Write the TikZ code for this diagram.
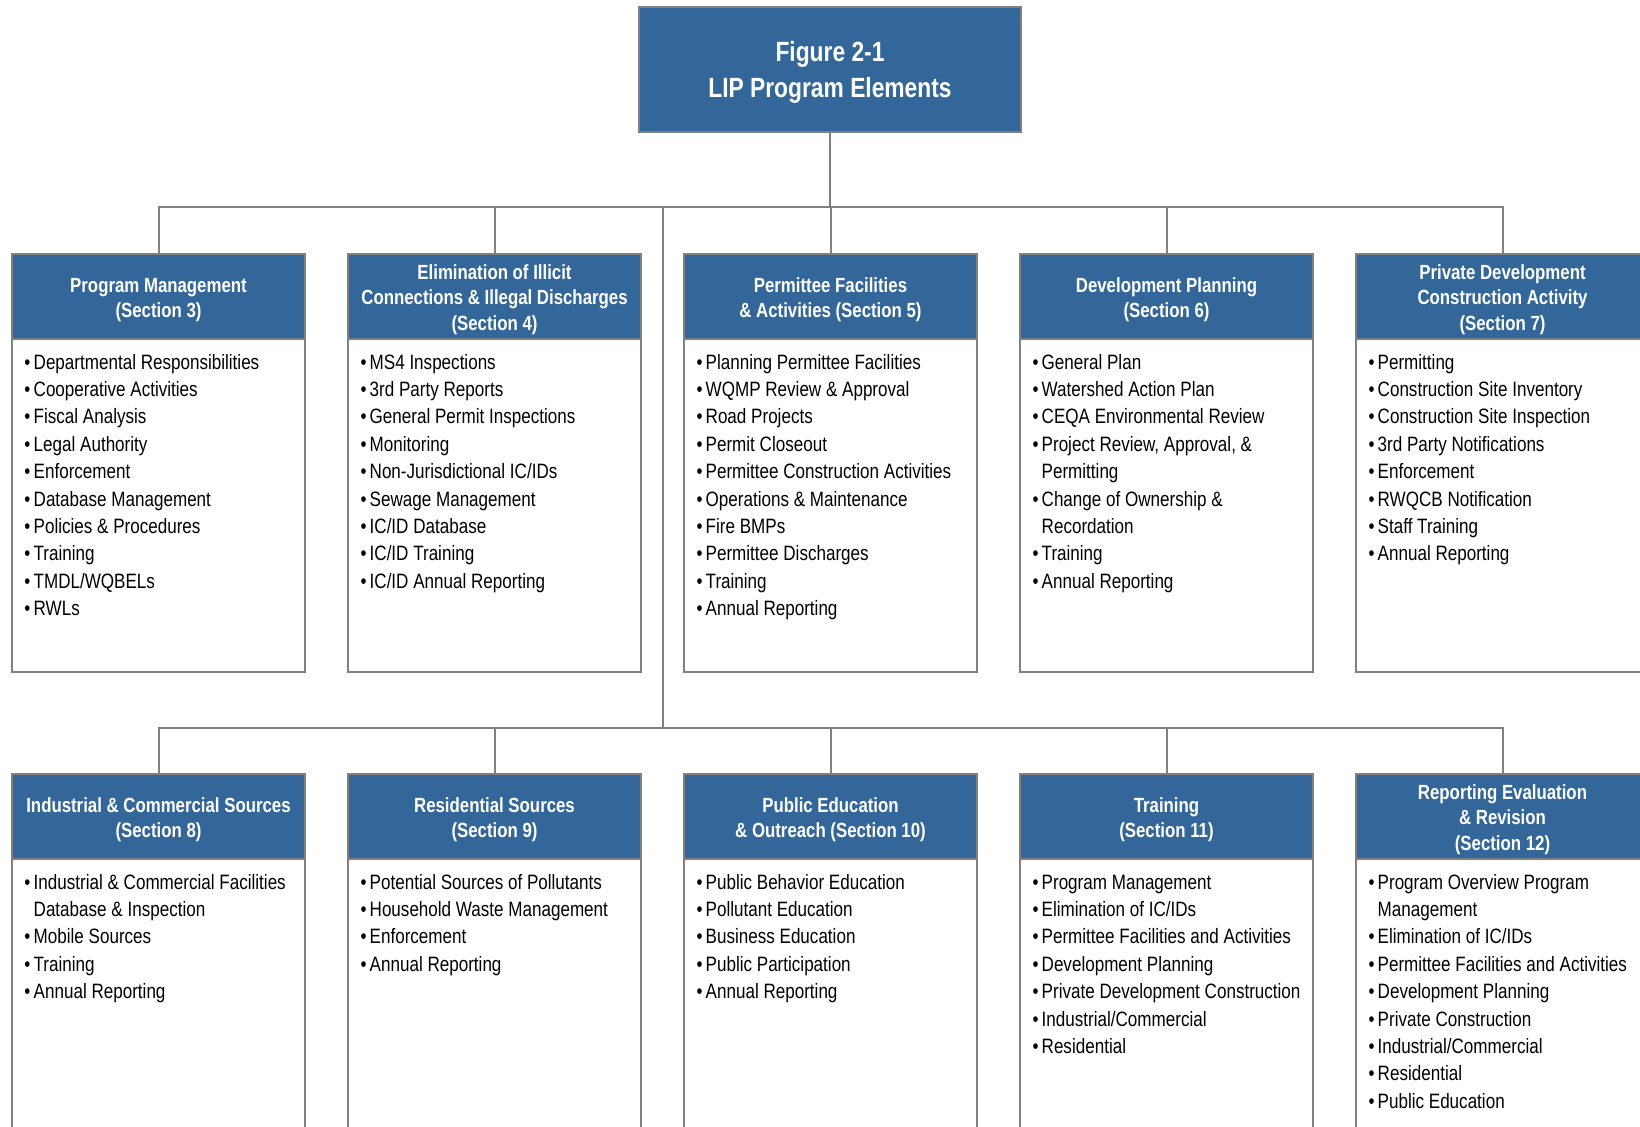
\documentclass[tikz,border=0pt]{standalone}
\usepackage{fontspec}
\setmainfont{Liberation Sans}[FakeStretch=0.82]
\usepackage{tikz}
\usetikzlibrary{positioning}

\definecolor{lipblue}{RGB}{51,102,153}
\definecolor{lipgray}{RGB}{128,128,128}

% one bullet line, with hanging indent for wrapped text
\newcommand{\bitem}[1]{\par\noindent\hangindent=4.6pt\hangafter=1\strut\makebox[4.6pt][l]{\textbullet}#1\strut}
\newcommand{\elemlist}[1]{\parbox[c][155.5pt][t]{134pt}{\raggedright #1}}
% taller first line, so the heading text sits a little lower
\newcommand{\hstrut}{\rule{0pt}{10.5pt}}
\newcommand{\tstrut}{\rule{0pt}{13.1pt}}

\begin{document}
\begin{tikzpicture}[x=0.5pt, y=-0.5pt]
  \tikzset{TitleStyle/.style = {shape          = rectangle,
                                draw           = lipgray,
                                fill           = lipblue,
                                line width     = 1.2pt,
                                text           = white,
                                font           = \bfseries\fontsize{13.9}{18.3}\selectfont,
                                align          = center,
                                minimum width  = 191pt,
                                minimum height = 62.5pt,
                                inner sep      = 0pt,
                                outer sep      = 0pt}}
  \tikzset{HeadStyle/.style = {shape          = rectangle,
                               draw           = lipgray,
                               fill           = lipblue,
                               line width     = 1.2pt,
                               text           = white,
                               font           = \bfseries\fontsize{10.25}{12.75}\selectfont,
                               align          = center,
                               minimum width  = 146.5pt,
                               minimum height = 42.5pt,
                               inner sep      = 0pt,
                               outer sep      = 0pt}}
  \tikzset{BodyStyle/.style = {shape          = rectangle,
                               draw           = lipgray,
                               fill           = white,
                               line width     = 1.2pt,
                               text           = black,
                               font           = \fontsize{10.4}{13.7}\selectfont,
                               minimum width  = 146.5pt,
                               inner xsep     = 5.25pt,
                               inner ysep     = 5.5pt,
                               outer sep      = 0pt}}
  \tikzset{LinkStyle/.style = {draw = lipgray, line width = 1pt}}
  \useasboundingbox (0,0) rectangle (1640,1127);
  %%% TITRE %%%
  \node[TitleStyle](title) at (830,69.5){\tstrut Figure 2-1\\LIP Program Elements};
  %%% RANGEE DU HAUT %%%
  \tikzset{node distance = 21.5pt}
  \node[HeadStyle](h1) at (158.5,296.5){\hstrut Program Management\\(Section 3)};
  \node[BodyStyle, below=0pt of h1](b1){\elemlist{%
    \bitem{Departmental Responsibilities}
    \bitem{Cooperative Activities}
    \bitem{Fiscal Analysis}
    \bitem{Legal Authority}
    \bitem{Enforcement}
    \bitem{Database Management}
    \bitem{Policies \& Procedures}
    \bitem{Training}
    \bitem{TMDL/WQBELs}
    \bitem{RWLs}}};
  \node[HeadStyle, right=of h1](h2){\hstrut Elimination of Illicit\\Connections \& Illegal Discharges\\(Section 4)};
  \node[BodyStyle, below=0pt of h2](b2){\elemlist{%
    \bitem{MS4 Inspections}
    \bitem{3rd Party Reports}
    \bitem{General Permit Inspections}
    \bitem{Monitoring}
    \bitem{Non-Jurisdictional IC/IDs}
    \bitem{Sewage Management}
    \bitem{IC/ID Database}
    \bitem{IC/ID Training}
    \bitem{IC/ID Annual Reporting}}};
  \node[HeadStyle, right=of h2](h3){\hstrut Permittee Facilities\\\& Activities (Section 5)};
  \node[BodyStyle, below=0pt of h3](b3){\elemlist{%
    \bitem{Planning Permittee Facilities}
    \bitem{WQMP Review \& Approval}
    \bitem{Road Projects}
    \bitem{Permit Closeout}
    \bitem{Permittee Construction Activities}
    \bitem{Operations \& Maintenance}
    \bitem{Fire BMPs}
    \bitem{Permittee Discharges}
    \bitem{Training}
    \bitem{Annual Reporting}}};
  \node[HeadStyle, right=of h3](h4){\hstrut Development Planning\\(Section 6)};
  \node[BodyStyle, below=0pt of h4](b4){\elemlist{%
    \bitem{General Plan}
    \bitem{Watershed Action Plan}
    \bitem{CEQA Environmental Review}
    \bitem{Project Review, Approval, \&\newline Permitting}
    \bitem{Change of Ownership \&\newline Recordation}
    \bitem{Training}
    \bitem{Annual Reporting}}};
  \node[HeadStyle, right=of h4](h5){\hstrut Private Development\\Construction Activity\\(Section 7)};
  \node[BodyStyle, below=0pt of h5](b5){\elemlist{%
    \bitem{Permitting}
    \bitem{Construction Site Inventory}
    \bitem{Construction Site Inspection}
    \bitem{3rd Party Notifications}
    \bitem{Enforcement}
    \bitem{RWQCB Notification}
    \bitem{Staff Training}
    \bitem{Annual Reporting}}};
  %%% RANGEE DU BAS %%%
  \node[HeadStyle, below=51pt of b1](h6){\hstrut Industrial \& Commercial Sources\\(Section 8)};
  \node[BodyStyle, below=0pt of h6](b6){\elemlist{%
    \bitem{Industrial \& Commercial Facilities\newline Database \& Inspection}
    \bitem{Mobile Sources}
    \bitem{Training}
    \bitem{Annual Reporting}}};
  \node[HeadStyle, right=of h6](h7){\hstrut Residential Sources\\(Section 9)};
  \node[BodyStyle, below=0pt of h7](b7){\elemlist{%
    \bitem{Potential Sources of Pollutants}
    \bitem{Household Waste Management}
    \bitem{Enforcement}
    \bitem{Annual Reporting}}};
  \node[HeadStyle, right=of h7](h8){\hstrut Public Education\\\& Outreach (Section 10)};
  \node[BodyStyle, below=0pt of h8](b8){\elemlist{%
    \bitem{Public Behavior Education}
    \bitem{Pollutant Education}
    \bitem{Business Education}
    \bitem{Public Participation}
    \bitem{Annual Reporting}}};
  \node[HeadStyle, right=of h8](h9){\hstrut Training\\(Section 11)};
  \node[BodyStyle, below=0pt of h9](b9){\elemlist{%
    \bitem{Program Management}
    \bitem{Elimination of IC/IDs}
    \bitem{Permittee Facilities and Activities}
    \bitem{Development Planning}
    \bitem{Private Development Construction}
    \bitem{Industrial/Commercial}
    \bitem{Residential}}};
  \node[HeadStyle, right=of h9](h10){\hstrut Reporting Evaluation\\\& Revision\\(Section 12)};
  \node[BodyStyle, below=0pt of h10](b10){\elemlist{%
    \bitem{Program Overview Program\newline Management}
    \bitem{Elimination of IC/IDs}
    \bitem{Permittee Facilities and Activities}
    \bitem{Development Planning}
    \bitem{Private Construction}
    \bitem{Industrial/Commercial}
    \bitem{Residential}
    \bitem{Public Education}}};
  %%% LIAISONS %%%
  \coordinate (topbus) at (830,207);
  \coordinate (lowbus) at (663,728);
  \draw[LinkStyle](title) to (topbus);
  \foreach \h in {h1,h2,h3,h4,h5}
    \draw[LinkStyle](topbus) -| (\h);
  \draw[LinkStyle](topbus -| lowbus) to (lowbus);
  \foreach \h in {h6,h7,h8,h9,h10}
    \draw[LinkStyle](lowbus) -| (\h);
\end{tikzpicture}
\end{document}
